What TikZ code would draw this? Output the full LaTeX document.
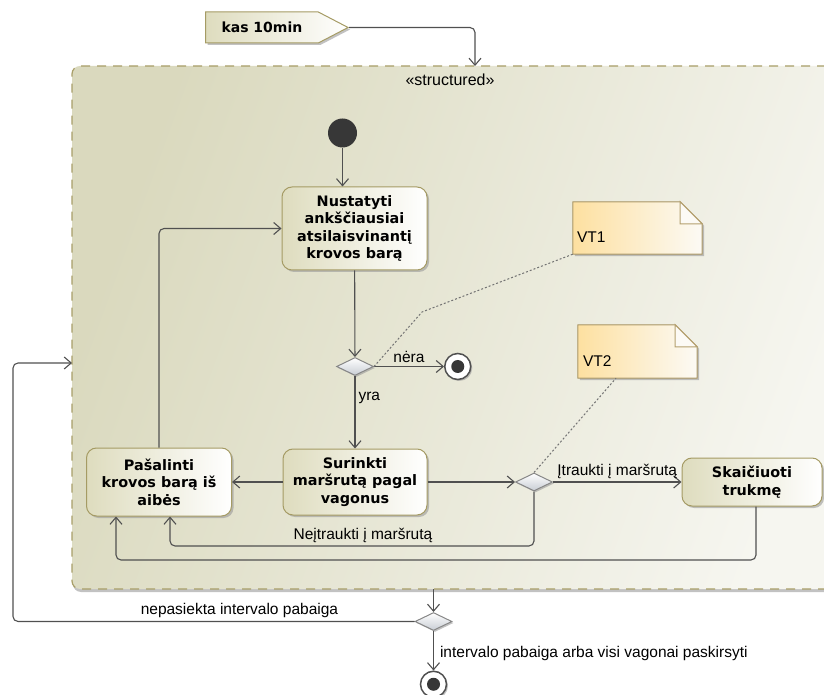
\documentclass[tikz,border=0pt]{standalone}
\usepackage{fontspec}
\setmainfont{Liberation Sans}
\newfontfamily\actfont{DejaVu Sans}
\usetikzlibrary{
  arrows.meta, % open barbed arrow tips
  shapes.geometric, % diamond decisions
  shapes.symbols, % signal for the time event
  shadows, % drop shadows under the boxes
  positioning % for relative placement of the final nodes
}
\definecolor{lineclr}{RGB}{80,80,80}
\definecolor{actbd}{RGB}{165,155,100}
\definecolor{actA}{RGB}{222,220,190}
\definecolor{frameA}{RGB}{218,217,190}
\definecolor{frameB}{RGB}{246,246,240}
\definecolor{framebd}{RGB}{168,158,104}
\definecolor{noteA}{RGB}{253,224,160}
\definecolor{noteB}{RGB}{252,250,245}
\definecolor{notebd}{RGB}{180,160,110}
\definecolor{decA}{RGB}{200,205,212}
\definecolor{decbd}{RGB}{135,135,135}
\definecolor{initclr}{RGB}{55,55,55}
\definecolor{dotclr}{RGB}{115,115,115}
\tikzset{
  framebox/.style={ % style for the structured region
    rectangle,rounded corners=8pt, % rounded frame
    draw=framebd,line width=1.2pt,dash pattern=on 9pt off 7pt, % dashed olive border
    left color=frameA,right color=frameB,shading angle=70, % beige gradient
    drop shadow={shadow xshift=1pt,shadow yshift=-3pt,fill=black!40,opacity=0.6},
  },
  stereo/.style={font=\fontsize{16}{18}\selectfont,inner sep=0pt},
  sigbox/.style={ % style for the time event
    signal,signal to=east,signal pointer angle=55,
    draw=actbd,line width=1pt,
    left color=actA,right color=white,
    minimum height=31pt,inner xsep=16pt,
    font=\actfont\bfseries\fontsize{14}{16}\selectfont,
    drop shadow={shadow xshift=2pt,shadow yshift=-2pt,fill=black!40,opacity=0.6},
  },
  initnode/.style={circle,fill=initclr,minimum size=29pt,inner sep=0pt},
  actbox/.style={ % style for the actions
    rectangle,rounded corners=10pt,
    draw=actbd,line width=1pt,
    left color=actA,right color=white,
    align=center,inner sep=2pt,
    font=\actfont\bfseries\fontsize{14.4}{17.5}\selectfont,
    drop shadow={shadow xshift=2pt,shadow yshift=-2pt,fill=black!40,opacity=0.6},
  },
  decbox/.style={ % style for the decisions
    diamond,draw=decbd,line width=1pt,
    top color=white,bottom color=decA,
    minimum width=37pt,minimum height=18pt,inner sep=0pt,
    drop shadow={shadow xshift=1.5pt,shadow yshift=-1.5pt,fill=black!40,opacity=0.6},
  },
  finnode/.style={ % style for the final nodes
    circle,draw=lineclr,line width=1.5pt,fill=white,
    minimum size=26pt,inner sep=0pt,
    path picture={\fill[initclr] (path picture bounding box.center) circle (6.5pt);},
    drop shadow={shadow xshift=1.5pt,shadow yshift=-1.5pt,fill=black!40,opacity=0.6},
  },
  notebox/.style={rectangle,inner sep=0pt},
  notebody/.style={
    draw=notebd,line width=1pt,left color=noteA,right color=noteB,
    drop shadow={shadow xshift=2pt,shadow yshift=-2pt,fill=black!40,opacity=0.6},
  },
  notefold/.style={draw=notebd,line width=1pt,fill=noteB},
  notetext/.style={anchor=base west,inner sep=0pt,font=\fontsize{15.5}{18}\selectfont},
  lbl/.style={font=\fontsize{15.5}{18}\selectfont,inner sep=3pt}, % edge labels
  conn/.style={ % style for the flows
    draw=lineclr,line width=1.1pt,rounded corners=5pt,
    -{Straight Barb[length=7pt,width=12pt]},
  },
  anchorln/.style={draw=dotclr,line width=1pt,dash pattern=on 2pt off 2pt},
}
\begin{document}
\begin{tikzpicture}[x=1pt,y=1pt]
  \useasboundingbox (0,0) rectangle (824,694);
  % structured region
  \node[framebox,minimum width=778pt,minimum height=523pt] (fr) at (461,366.5) {};
  \node[stereo] (st) at (450,614) {«structured»};
  \node[sigbox,anchor=west] (sig) at (205,666.5) {kas 10min};

  \node[initnode] (init) at (342.5,561) {};
  \node[actbox,minimum width=145pt,minimum height=83pt] (find) at (354.5,465.5)
  {Nustatyti\\ankščiausiai\\atsilaisvinantį\\krovos barą};
  \node[decbox] (d1) at (355,327.5) {};
  \node[finnode,right=70pt of d1] (f1) {};
  \node[actbox,minimum width=144pt,minimum height=66pt] (route) at (355,212)
  {Surinkti\\maršrutą pagal\\vagonus};
  \node[actbox,minimum width=145pt,minimum height=68pt] (remove) at (159,212)
  {Pašalinti\\krovos barą iš\\aibės};
  \node[decbox] (d2) at (534,212) {};
  \node[actbox,minimum width=140pt,minimum height=48pt] (calc) at (752,212)
  {Skaičiuoti\\trukmę};
  \node[decbox] (d3) at (433.5,72.5) {};
  \node[finnode,below=39.5pt of d3] (f2) {};

  % notes
  \node[notebox,minimum width=129pt,minimum height=52pt] (vt1) at (637.5,466) {};
  \node[notebox,minimum width=119pt,minimum height=53pt] (vt2) at (637.5,342.5) {};
  \foreach \n in {vt1,vt2}{
    \filldraw[notebody] (\n.south west) -- (\n.north west) -- ([xshift=-22pt]\n.north east)
      -- ([yshift=-22pt]\n.north east) -- (\n.south east) -- cycle;
    \filldraw[notefold] ([xshift=-22pt]\n.north east) |- ([yshift=-22pt]\n.north east) -- cycle;
  }
  \node[notetext] (vt1t) at ([shift={(4pt,11.5pt)}]vt1.south west) {VT1};
  \node[notetext] (vt2t) at ([shift={(5pt,12pt)}]vt2.south west) {VT2};

  \coordinate (intop) at (475,628);
  \coordinate (skip) at (534,148);
  \coordinate (back) at (756,134);
  \coordinate (outbot) at (433.5,105);
  \coordinate (loop) at (13,331);
  \coordinate (inleft) at (72,331);
  \coordinate (bend) at (422,382);

  \draw[conn] (sig.east) -| (intop);
  \draw[conn] (init) -- (init |- find.north);
  \draw[conn] (find) -- (d1);
  \draw[conn] (d1) -- node[lbl,above] {nėra} (f1);
  \draw[conn] (d1) -- node[lbl,right,pos=0.3] {yra} (route);
  \draw[conn] (route) -- (remove);
  \draw[conn] (route) -- (d2);
  \draw[conn] (d2) -- node[lbl,above] {Įtraukti į maršrutą} (calc);
  \draw[conn] (d2) -- (skip) -| node[lbl,above,pos=0.235] {Neįtraukti į maršrutą}
    ([xshift=11pt]remove.south);
  \draw[conn] ([xshift=4pt]calc.south) -- (back) -| ([xshift=-43pt]remove.south);
  \draw[conn] (remove.north) |- (find.west);
  \draw[conn] (outbot) -- (d3);
  \draw[conn] (d3.west) -| node[lbl,above,pos=0.218] {nepasiekta intervalo pabaiga}
    (loop) -- (inleft);
  \draw[conn] (d3) -- node[lbl,right,pos=0.58,xshift=3pt] {intervalo pabaiga arba visi vagonai paskirsyti} (f2);

  % note anchors
  \draw[anchorln] (d1.east) -- (bend) -- (vt1.south west);
  \draw[anchorln] (d2.north) -- ([xshift=-21.5pt]vt2.south);
\end{tikzpicture}
\end{document}
